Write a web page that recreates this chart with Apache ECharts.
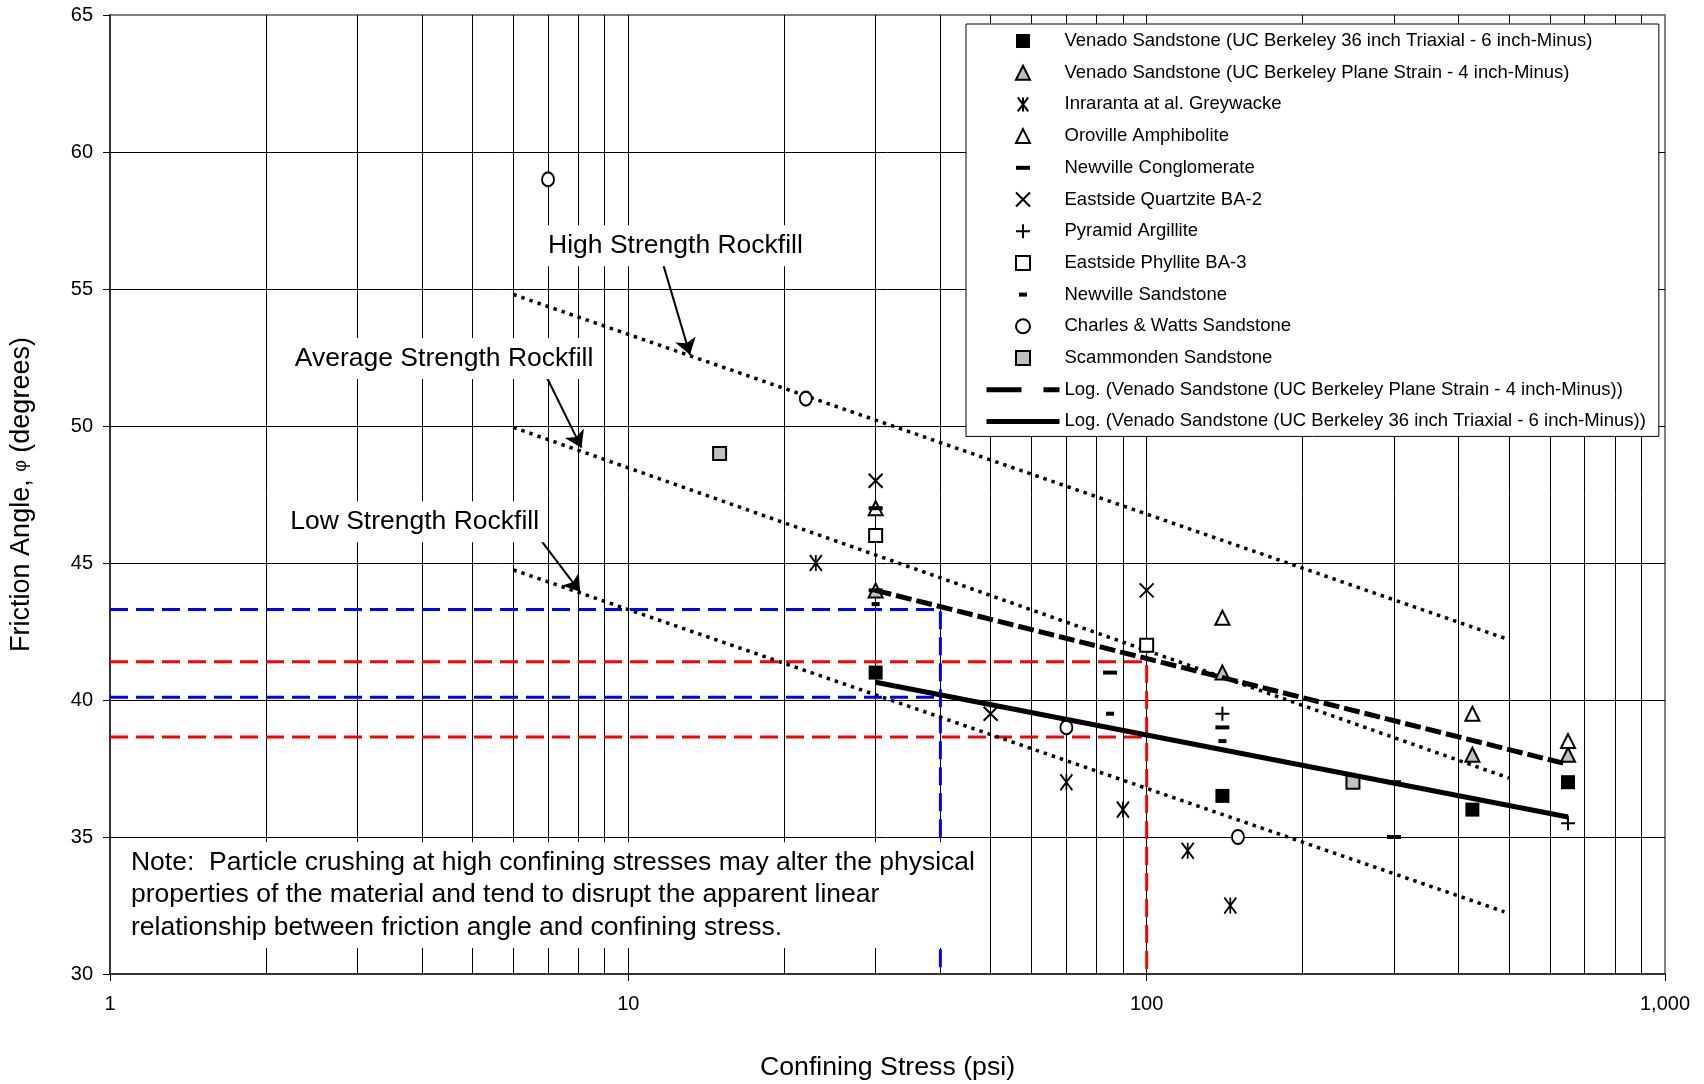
<!DOCTYPE html>
<html><head><meta charset="utf-8">
<script src="https://cdn.jsdelivr.net/npm/echarts@6/dist/echarts.min.js"></script>
<style>html,body{margin:0;padding:0;background:#fff}#c{width:1704px;height:1084px}</style>
</head><body><div id="c"></div>
<script>
// ---------------- data ----------------
const venadoTriaxial   = [[30,41],[140,36.5],[425,36],[650,37]];
const venadoPlane      = [[30,44],[140,41],[425,38],[650,38]];
const inraranta        = [[23,45],[70,37],[90,36],[120,34.5],[145,32.5]];
const oroville         = [[30,47],[140,43],[425,39.5],[650,38.5]];
const newvilleConglom  = [[30,47],[30,44],[85,41],[140,39],[300,37],[300,35]];
const eastsideQuartz   = [[30,48],[50,39.5],[100,44]];
const pyramidArg       = [[140,39.5],[650,35.5]];
const eastsidePhyllite = [[30,46],[100,42]];
const newvilleSand     = [[30,43.5],[85,39.5],[140,38.5]];
const charlesWatts     = [[7,59],[22,51],[70,39],[150,35]];
const scammonden       = [[15,49],[250,37]];

const trendPlane    = [[30,44.0],[650,37.65]];
const trendTriaxial = [[30,40.65],[650,35.73]];

const highRockfill = [[6,54.8],[500,42.2]];
const avgRockfill  = [[6,49.95],[500,37.15]];
const lowRockfill  = [[6,44.75],[490,32.27]];

const blueUpper = [[1,43.3],[40,43.3],[40,30]];
const blueLower = [[1,40.1],[40,40.1]];
const redUpper  = [[1,41.4],[100,41.4],[100,30]];
const redLower  = [[1,38.65],[100,38.65]];

const annotTexts  = ['High Strength Rockfill','Average Strength Rockfill','Low Strength Rockfill'];
const annotPoints = [[12.33,56.58],[4.41,52.46],[3.87,46.51]];
const arrowLines  = [[[11.68,55.88],[13.15,52.6]],[[6.96,51.78],[8.12,49.21]],[[6.70,45.96],[8.07,43.95]]];
const noteText  = 'Note:  Particle crushing at high confining stresses may alter the physical\nproperties of the material and tend to disrupt the apparent linear\nrelationship between friction angle and confining stress.';
const notePoint = [1.050,32.88];

const xTickValues = [1,10,100,1000];
const xTickLabels = ['1','10','100','1,000'];
const gridX = [2,3,4,5,6,7,8,9,10,20,30,40,50,60,70,80,90,100,200,300,400,500,600,700,800,900];

const names = [
 'Venado Sandstone (UC Berkeley 36 inch Triaxial - 6 inch-Minus)',
 'Venado Sandstone (UC Berkeley Plane Strain - 4 inch-Minus)',
 'Inraranta at al. Greywacke',
 'Oroville Amphibolite',
 'Newville Conglomerate',
 'Eastside Quartzite BA-2',
 'Pyramid Argillite',
 'Eastside Phyllite BA-3',
 'Newville Sandstone',
 'Charles & Watts Sandstone',
 'Scammonden Sandstone',
 'Log. (Venado Sandstone (UC Berkeley Plane Strain - 4 inch-Minus))',
 'Log. (Venado Sandstone (UC Berkeley 36 inch Triaxial - 6 inch-Minus))'
];

// ---------------- styles ----------------
const FONT = 'Liberation Sans, Arial, sans-serif';
const P_SQ = 'path://M-7,-7L7,-7L7,7L-7,7Z';
const P_TRI = 'path://M0,-7L7,7L-7,7Z';
const P_CIR = 'path://M-7,0A7,7 0 1,0 7,0A7,7 0 1,0 -7,0Z';
const P_X = 'path://M-7,-7L7,7M7,-7L-7,7';
const P_PLUS = 'path://M-7,0L7,0M0,-7L0,7';
const P_AST = 'path://M-6,-8L6,8M6,-8L-6,8M0,-8L0,8';
const P_LDASH = 'path://M-7,-7M7,7M-7,-2L7,-2L7,2L-7,2Z';
const P_SDASH = 'path://M-7,-7M7,7M-4,-2L4,-2L4,2L-4,2Z';
const CLEAR = 'rgba(0,0,0,0)';

function sc(name, data, symbol, size, fill, stroke, bw) {
  return {type:'scatter', name, data, symbol, symbolSize:size, silent:true, z:4,
    itemStyle:{color:fill, borderColor:stroke, borderWidth:bw, opacity:1}};
}
function ln(name, data, width, type, color, z) {
  return {type:'line', name, data, symbol:'none', silent:true, z:z||3,
    itemStyle:{color:color||'#000'},
    lineStyle:{color:color||'#000', width, type, cap:'butt'}};
}

const series = [
  {type:'line', data:[], z:1, silent:true,
    markLine:{silent:true, symbol:'none', animation:false, z:1, zlevel:0, label:{show:false},
      lineStyle:{color:'#000', width:1, type:'solid'},
      emphasis:{disabled:true},
      data: gridX.map(v=>({xAxis:v}))}},
  ln('blueUpper', blueUpper, 3, [18,8], '#0000FF', 2),
  ln('blueLower', blueLower, 3, [18,8], '#0000FF', 2),
  ln('redUpper', redUpper, 3, [18,8], '#FF0000', 2),
  ln('redLower', redLower, 3, [18,8], '#FF0000', 2),
  ln('high', highRockfill, 3.5, [3.5,5]),
  ln('avg', avgRockfill, 3.5, [3.5,5]),
  ln('low', lowRockfill, 3.5, [3.5,5]),
  sc(names[0], venadoTriaxial, P_SQ, 14, '#000', '#000', 0),
  sc(names[1], venadoPlane, P_TRI, 14, '#C0C0C0', '#000', 2),
  sc(names[2], inraranta, P_AST, [12,16], CLEAR, '#000', 2),
  sc(names[3], oroville, P_TRI, 14, '#fff', '#000', 2),
  sc(names[4], newvilleConglom, P_LDASH, 14, '#000', '#000', 0),
  sc(names[5], eastsideQuartz, P_X, 14, CLEAR, '#000', 2),
  sc(names[6], pyramidArg, P_PLUS, 14, CLEAR, '#000', 2),
  sc(names[7], eastsidePhyllite, P_SQ, 13, '#fff', '#000', 2),
  sc(names[8], newvilleSand, P_SDASH, 14, '#000', '#000', 0),
  sc(names[9], charlesWatts, P_CIR, [12,14], '#fff', '#000', 2),
  sc(names[10], scammonden, P_SQ, 13, '#C0C0C0', '#000', 2),
  ln(names[11], trendPlane, 5, [16,5], '#000', 5),
  ln(names[12], trendTriaxial, 5, 'solid', '#000', 5),
  {type:'scatter', name:'arrows', z:6, silent:true, symbolSize:0, data:[],
    markLine:{silent:true, animation:false, z:6, symbol:['none','arrow'], symbolSize:16,
      label:{show:false}, emphasis:{disabled:true},
      lineStyle:{color:'#000', width:2, type:'solid'},
      data: arrowLines.map(a=>[{coord:a[0]},{coord:a[1]}])}}
];

const legendData = names.map((n,i)=>{
  const hide = {color:CLEAR, borderColor:CLEAR, borderWidth:0, opacity:0};
  if (i===11) return {name:n, lineStyle:{width:5, type:[35,22], color:'#000'}, itemStyle:hide};
  if (i===12) return {name:n, lineStyle:{width:5, type:'solid', color:'#000'}, itemStyle:hide};
  return {name:n};
});

const chart = echarts.init(document.getElementById('c'), null, {renderer:'canvas'});
chart.setOption({
  animation:false,
  backgroundColor:'#fff',
  grid:{left:110, right:39, top:15, bottom:110, show:true, borderColor:'#808080', borderWidth:2, backgroundColor:'#fff', containLabel:false, outerBoundsMode:'none'},
  legend:{show:true, z:20, data:legendData, orient:'vertical', left:966, top:24, selectedMode:false,
    itemWidth:73, itemHeight:14, itemGap:11.7, symbolKeepAspect:true,
    padding:[7,13,5,18], backgroundColor:'#fff', borderColor:'#000', borderWidth:1, borderRadius:0,
    textStyle:{fontFamily:FONT, fontSize:18.5, color:'#000', lineHeight:20}},
  xAxis:{type:'log', logBase:10, min:1, max:1000,
    name:'Confining Stress (psi)', nameLocation:'middle', nameGap:80,
    nameTextStyle:{fontFamily:FONT, fontSize:26.7, color:'#000'},
    axisLine:{show:true, onZero:false, lineStyle:{color:'#333', width:2}},
    axisTick:{show:true, length:7, lineStyle:{color:'#000', width:1}},
    axisLabel:{margin:20, fontFamily:FONT, fontSize:20, color:'#000',
      formatter:(v)=>{const i=xTickValues.indexOf(Math.round(v)); return i>=0?xTickLabels[i]:'';}},
    splitLine:{show:false}, minorTick:{show:false}},
  yAxis:{type:'value', min:30, max:65, interval:5,
    name:'Friction Angle, {phi|φ} (degrees)', nameLocation:'middle', nameGap:75,
    nameTextStyle:{fontFamily:FONT, fontSize:27, color:'#000', rich:{phi:{fontFamily:FONT, fontSize:18, color:'#000'}}},
    axisLine:{show:true, onZero:false, lineStyle:{color:'#333', width:2}},
    axisTick:{show:true, length:7, lineStyle:{color:'#000', width:1}},
    axisLabel:{margin:17, fontFamily:FONT, fontSize:20, color:'#000'},
    splitLine:{show:true, showMinLine:false, showMaxLine:false, lineStyle:{color:'#000', width:1}}},
  tooltip:{show:false},
  series
});

// text annotations anchored to data coordinates via the chart's own scales
const toPx = p => chart.convertToPixel({gridIndex:0}, p);
const graphics = annotPoints.map((p,i)=>{
  const q = toPx(p);
  return {type:'text', x:q[0], y:q[1], z:100, zlevel:0, silent:true,
    style:{text:annotTexts[i], fontFamily:FONT, fontSize:26.5, fill:'#000',
      align:'center', verticalAlign:'middle', backgroundColor:'#fff', padding:[7,6,7,6]}};
});
const np = toPx(notePoint);
graphics.push({type:'text', x:np[0], y:np[1], z:100, zlevel:0, silent:true,
  style:{text:noteText, fontFamily:FONT, fontSize:26.5, lineHeight:32.6, fill:'#000',
    align:'left', verticalAlign:'middle', backgroundColor:'#fff', padding:[4,10,4,10]}});
chart.setOption({graphic: graphics});
</script></body></html>
